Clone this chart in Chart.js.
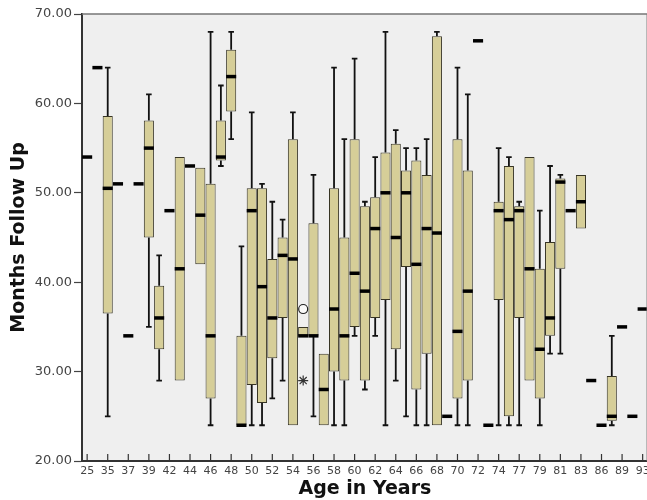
<!DOCTYPE html>
<html>
<head>
<meta charset="utf-8">
<script src="https://cdn.jsdelivr.net/npm/chart.js@4.4.1/dist/chart.umd.min.js"></script>
<style>
  html, body { margin: 0; padding: 0; background: #fff; overflow: hidden; }
  #wrap { width: 654px; height: 500px; }
</style>
</head>
<body>
<div id="wrap"><canvas id="box-chart"></canvas></div>
<script>
// Data (months follow up by age)
let ages = Array.of(25, 33, 35, 36, 37, 38, 39, 41, 42, 43, 44, 45, 46, 47, 48, 49, 50, 51, 52, 53,
    54, 55, 56, 57, 58, 59, 60, 61, 62, 63, 64, 65, 66, 67, 68, 69, 70, 71, 72, 73,
    74, 76, 77, 78, 79, 80, 81, 82, 83, 85, 86, 88, 89, 91, 93);
let lowWhisker = Array.of(54, 64, 25, 51, 34, 51, 35, 29, 48, 29, 53, 42, 24, 53, 56, 24, 24, 24, 27, 29,
    24, 34, 25, 24, 24, 24, 34, 28, 34, 24, 29, 25, 24, 24, 24, 25, 24, 24, 67, 24,
    24, 24, 24, 29, 24, 32, 32, 48, 46, 29, 24, 24, 35, 25, 37);
let q1 = Array.of(54, 64, 36.5, 51, 34, 51, 45, 32.5, 48, 29, 53, 42, 27, 53.6, 59.1, 24, 28.5, 26.5, 31.5, 36,
    24, 34, 34, 24, 30, 29, 35, 29, 36, 38, 32.5, 41.7, 28, 32, 24, 25, 27, 29, 67, 24,
    38, 25, 36, 29, 27, 34, 41.5, 48, 46, 29, 24, 24.5, 35, 25, 37);
let medians = Array.of(54, 64, 50.5, 51, 34, 51, 55, 36, 48, 41.5, 53, 47.5, 34, 54, 63, 24, 48, 39.5, 36, 43,
    42.6, 34, 34, 28, 37, 34, 41, 39, 46, 50, 45, 50, 42, 46, 45.5, 25, 34.5, 39, 67, 24,
    48, 47, 48, 41.5, 32.5, 36, 51.2, 48, 49, 29, 24, 25, 35, 25, 37);
let q3 = Array.of(54, 64, 58.6, 51, 34, 51, 58.1, 39.6, 48, 54, 53, 52.8, 51, 58.1, 66, 34, 50.5, 50.5, 42.6, 45,
    56, 35, 46.6, 32, 50.5, 45, 56, 48.5, 49.5, 54.5, 55.5, 52.5, 53.6, 52, 67.5, 25, 56, 52.5, 67, 24,
    49, 53, 48.5, 54, 41.5, 44.5, 51.6, 48, 52, 29, 24, 29.5, 35, 25, 37);
let highWhisker = Array.of(54, 64, 64, 51, 34, 51, 61, 43, 48, 54, 53, 52.8, 68, 62, 68, 44, 59, 51, 49, 47,
    59, 35, 52, 32, 64, 56, 65, 49, 54, 68, 57, 55, 55, 56, 68, 25, 64, 61, 67, 24,
    55, 54, 49, 54, 48, 53, 52, 48, 52, 29, 24, 34, 35, 25, 37);

// outliers: o = circle, * = extreme
let circleAges = Array.of(55);
let circleValues = Array.of(37);
let starAges = Array.of(55);
let starValues = Array.of(29);

let yTicks = Array.of(20, 30, 40, 50, 60, 70);

let labels = ages.map(String);

let boxFill = 'rgb(214, 206, 152)';
let boxLine = 'rgb(55, 52, 36)';

// background + frame of the plot area
var frame = {
    id: 'frame',
    beforeDraw(chart) {
        let a = chart.chartArea, ctx = chart.ctx;
        ctx.save();
        ctx.fillStyle = '#efefef';
        ctx.fillRect(a.left, a.top, a.right - a.left, a.bottom - a.top);
        ctx.restore();
    },
    afterDraw(chart) {
        let a = chart.chartArea, ctx = chart.ctx;
        ctx.save();
        ctx.strokeStyle = '#777';
        ctx.lineWidth = 1.5;
        ctx.beginPath();
        ctx.moveTo(a.left, a.top);
        ctx.lineTo(a.right - 0.5, a.top);
        ctx.lineTo(a.right - 0.5, a.bottom);
        ctx.stroke();
        // inward tick marks on the x axis, one per shown label
        let x = chart.scales.x;
        ctx.strokeStyle = '#333';
        ctx.lineWidth = 1.2;
        ages.forEach(function (a2, i) {
            if (i % 2) return;
            let px = x.getPixelForValue(i);
            ctx.beginPath();
            ctx.moveTo(px, a.bottom);
            ctx.lineTo(px, a.bottom - 7);
            ctx.stroke();
        });
        ctx.restore();
    }
};

// whiskers and medians
var boxParts = {
    id: 'boxParts',
    beforeDatasetsDraw(chart) {
        let x = chart.scales.x, y = chart.scales.y, ctx = chart.ctx;
        ctx.save();
        ctx.strokeStyle = '#111';
        ctx.lineWidth = 1.8;
        ages.forEach(function (a, i) {
            let px = x.getPixelForValue(i);
            let ends = [[q3[i], highWhisker[i]], [q1[i], lowWhisker[i]]];
            ends.forEach(function (e) {
                if (Math.abs(e[1] - e[0]) < 0.01) return;
                let y0 = y.getPixelForValue(e[0]), y1 = y.getPixelForValue(e[1]);
                ctx.beginPath();
                ctx.moveTo(px, y0);
                ctx.lineTo(px, y1);
                ctx.moveTo(px - 2.8, y1);
                ctx.lineTo(px + 2.8, y1);
                ctx.stroke();
            });
        });
        ctx.restore();
    },
    afterDatasetsDraw(chart) {
        let x = chart.scales.x, y = chart.scales.y, ctx = chart.ctx;
        let half = chart.getDatasetMeta(0).data[0].width / 2;
        ctx.save();
        ctx.strokeStyle = '#000';
        ctx.lineWidth = 3.5;
        ages.forEach(function (a, i) {
            let px = x.getPixelForValue(i);
            let py = y.getPixelForValue(medians[i]);
            ctx.beginPath();
            ctx.moveTo(px - half, py);
            ctx.lineTo(px + half, py);
            ctx.stroke();
        });
        ctx.restore();
    }
};

let boxCtx = document.getElementById('box-chart').getContext('2d');

var myBoxChart = new Chart(boxCtx, {
    type: 'bar',
    data: {
        labels: labels,
        datasets: [{
            label: 'Months Follow Up',
            data: ages.map((a, i) => [q1[i], q3[i]]),
            backgroundColor: boxFill,
            borderColor: boxLine,
            borderWidth: 1,
            borderSkipped: false,
            barPercentage: 0.98,
            categoryPercentage: 1,
            order: 2
        }, {
            type: 'line',
            label: 'outlier',
            data: circleAges.map((a, i) => ({x: String(a), y: circleValues[i]})),
            showLine: false,
            pointStyle: 'circle',
            pointRadius: 4.5,
            pointBorderWidth: 1.2,
            pointBorderColor: '#222',
            pointBackgroundColor: 'rgba(255,255,255,0.6)',
            order: 1
        }, {
            type: 'line',
            label: 'extreme',
            data: starAges.map((a, i) => ({x: String(a), y: starValues[i]})),
            showLine: false,
            pointStyle: 'star',
            pointRadius: 5,
            pointBorderWidth: 1.2,
            pointBorderColor: '#333',
            order: 1
        }]
    },
    options: {
        responsive: true,
        maintainAspectRatio: false,
        animation: false,
        layout: { padding: { top: 14, right: 0, left: 0, bottom: 0 } },
        plugins: {
            legend: { display: false },
            tooltip: { enabled: false }
        },
        scales: {
            x: {
                offset: true,
                afterFit: function (scale) { scale.height = 39; },
                grid: { display: true, drawOnChartArea: false, drawTicks: false },
                border: { display: true, color: '#333', width: 2 },
                ticks: {
                    autoSkip: false,
                    maxRotation: 0,
                    minRotation: 0,
                    padding: 4,
                    color: '#444',
                    font: { family: 'DejaVu Sans', size: 11 },
                    callback: function (v, idx) { return idx % 2 === 0 ? labels[idx] : ''; }
                },
                title: {
                    display: true,
                    text: 'Age in Years',
                    color: '#111',
                    font: { family: 'DejaVu Sans', size: 19, weight: 'bold' },
                    padding: { top: 0, bottom: 0 }
                }
            },
            y: {
                min: 20,
                max: 70,
                afterFit: function (scale) { scale.width = 82; },
                afterBuildTicks: function (scale) { scale.ticks = yTicks.map(v => ({value: v})); },
                grid: { drawOnChartArea: false, tickLength: 8, color: '#444', tickWidth: 1.2 },
                border: { display: true, color: '#333', width: 2 },
                ticks: {
                    padding: 2,
                    color: '#444',
                    font: { family: 'DejaVu Sans', size: 13 },
                    callback: function (v) { return Number(v).toFixed(2); }
                },
                title: {
                    display: true,
                    text: 'Months Follow Up',
                    color: '#111',
                    font: { family: 'DejaVu Sans', size: 19, weight: 'bold' },
                    padding: { top: 8, bottom: 0 }
                }
            }
        }
    },
    plugins: [frame, boxParts]
});
</script>
</body>
</html>
